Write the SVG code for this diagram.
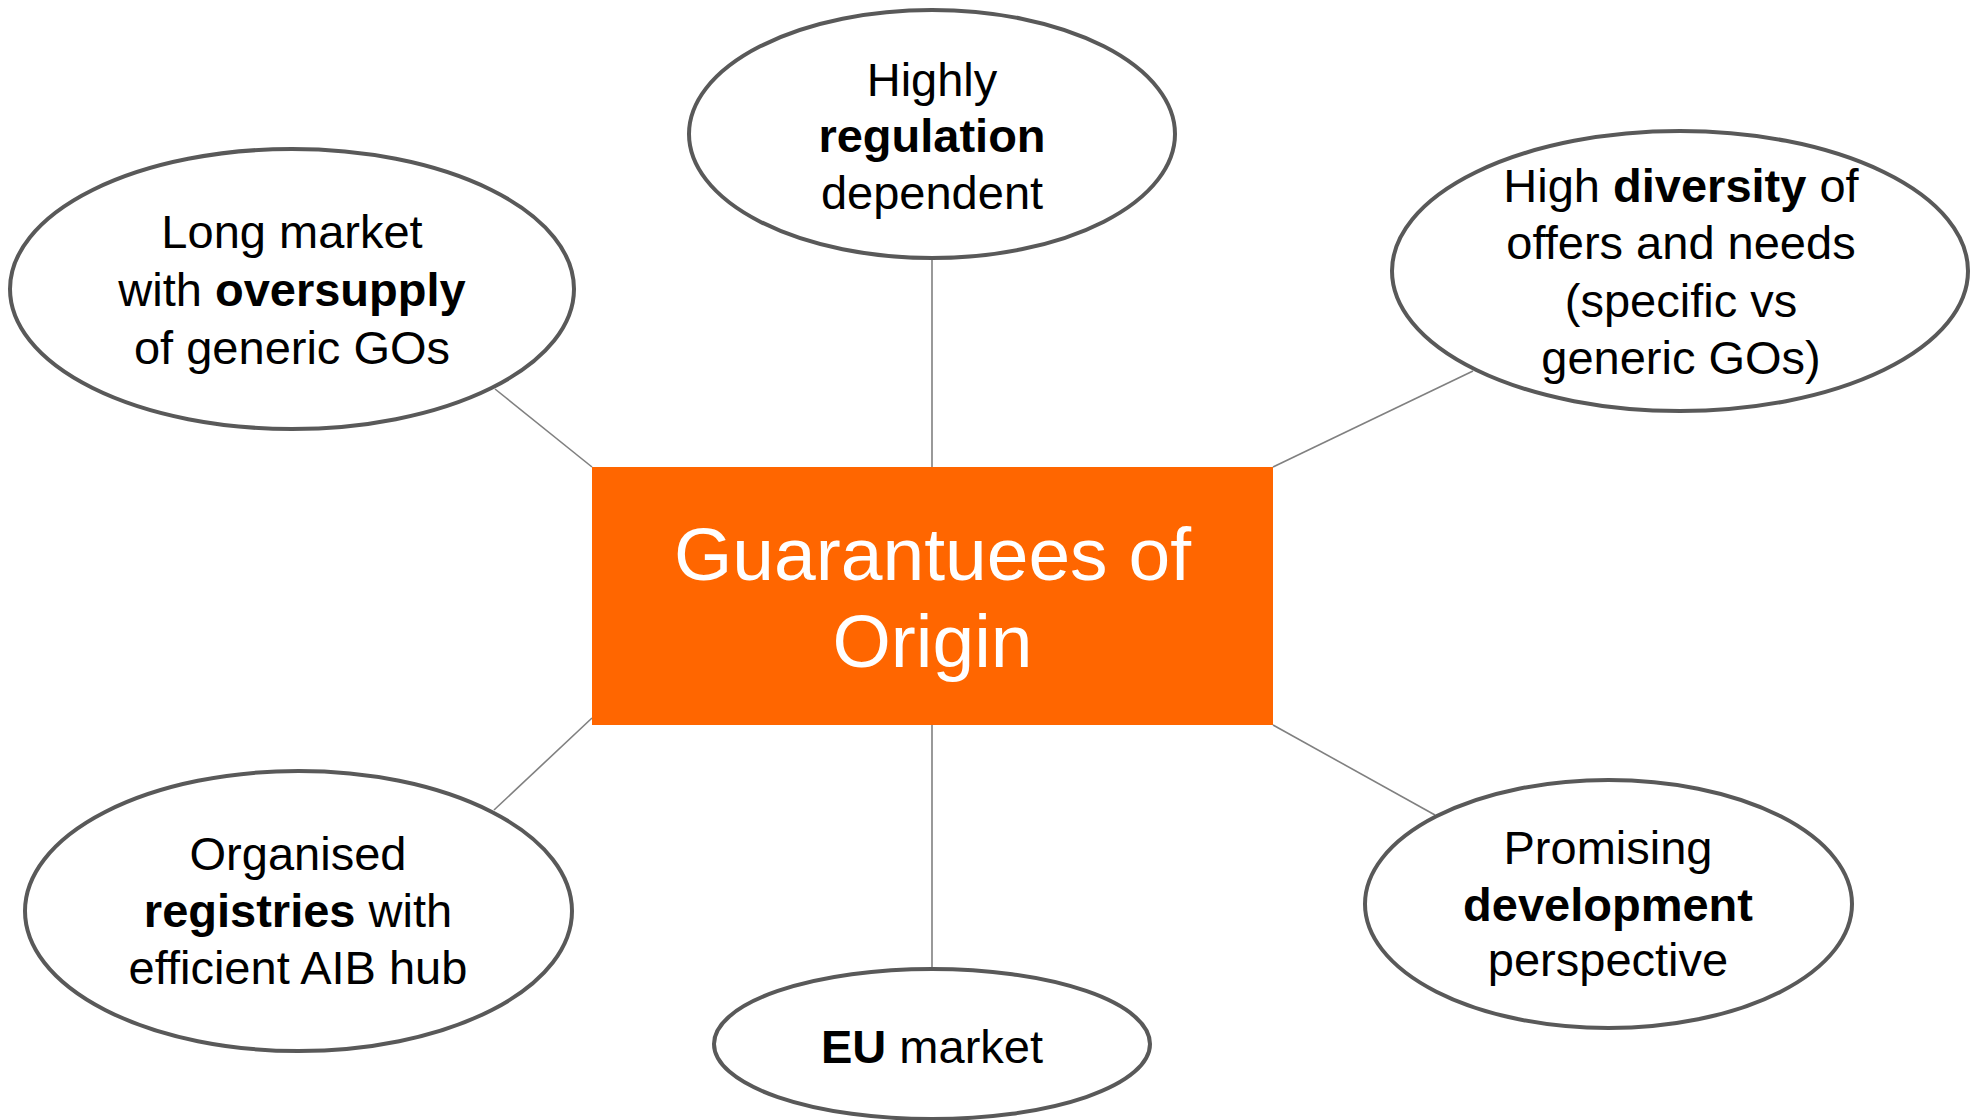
<svg xmlns="http://www.w3.org/2000/svg" width="1972" height="1120" viewBox="0 0 1972 1120">
<style>
.bubble{fill:#ffffff;stroke:#595959;stroke-width:4}
.conn{stroke:#808080;stroke-width:1.6;fill:none}
.lbl{font-family:"Liberation Sans",Arial,sans-serif;font-size:47px;fill:#000000;text-anchor:middle}
.b{font-weight:bold}
.title{font-family:"Liberation Sans",Arial,sans-serif;font-size:75px;fill:#ffffff;text-anchor:middle}
</style>
<rect width="1972" height="1120" fill="#ffffff"/>
<g id="connectors">
<line class="conn" x1="932" y1="258" x2="932" y2="467"/>
<line class="conn" x1="495" y1="389" x2="592" y2="467"/>
<line class="conn" x1="1473" y1="371" x2="1273" y2="467"/>
<line class="conn" x1="592" y1="718" x2="494" y2="810"/>
<line class="conn" x1="932" y1="725" x2="932" y2="968"/>
<line class="conn" x1="1273" y1="725" x2="1435" y2="815"/>
</g>
<g id="center">
<rect x="592" y="467" width="681" height="258" fill="#FF6600"/>
<text class="title" x="932.5" y="580">Guarantuees of</text>
<text class="title" x="932.5" y="667">Origin</text>
</g>
<g id="regulation">
<ellipse class="bubble" cx="932" cy="134" rx="243" ry="124"/>
<text class="lbl" x="932" y="96">Highly</text>
<text class="lbl b" x="932" y="152">regulation</text>
<text class="lbl" x="932" y="209">dependent</text>
</g>
<g id="oversupply">
<ellipse class="bubble" cx="292" cy="289" rx="282" ry="140"/>
<text class="lbl" x="292" y="248">Long market</text>
<text class="lbl" x="292" y="306">with <tspan class="b">oversupply</tspan></text>
<text class="lbl" x="292" y="364">of generic GOs</text>
</g>
<g id="diversity">
<ellipse class="bubble" cx="1680" cy="271" rx="288" ry="140"/>
<text class="lbl" x="1681" y="202">High <tspan class="b">diversity</tspan> of</text>
<text class="lbl" x="1681" y="259">offers and needs</text>
<text class="lbl" x="1681" y="317">(specific vs</text>
<text class="lbl" x="1681" y="374">generic GOs)</text>
</g>
<g id="registries">
<ellipse class="bubble" cx="298.5" cy="911" rx="273.5" ry="140"/>
<text class="lbl" x="298" y="870">Organised</text>
<text class="lbl" x="298" y="927"><tspan class="b">registries</tspan> with</text>
<text class="lbl" x="298" y="984">efficient AIB hub</text>
</g>
<g id="eu-market">
<ellipse class="bubble" cx="932" cy="1044" rx="218" ry="75"/>
<text class="lbl" x="932" y="1063"><tspan class="b">EU</tspan> market</text>
</g>
<g id="development">
<ellipse class="bubble" cx="1608.5" cy="904" rx="243.5" ry="124"/>
<text class="lbl" x="1608" y="864">Promising</text>
<text class="lbl b" x="1608" y="921">development</text>
<text class="lbl" x="1608" y="976">perspective</text>
</g>
</svg>
